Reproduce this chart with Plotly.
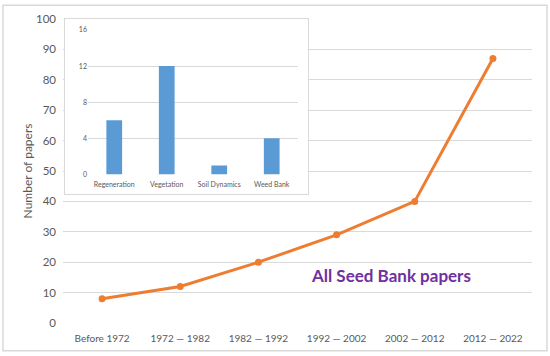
import plotly.graph_objects as go

periods = ["Before 1972", "1972 — 1982", "1982 — 1992", "1992 — 2002", "2002 — 2012", "2012 — 2022"]
papers = [8, 12, 20, 29, 40, 87]

inset_cats = ["Regeneration", "Vegetation", "Soil Dynamics", "Weed Bank"]
inset_vals = [6, 12, 1, 4]

main_ticks = [0, 10, 20, 30, 40, 50, 60, 70, 80, 90, 100]
inset_ticks = [0, 4, 8, 12, 16]

GRID = "#d9d9d9"
TXT = "#595959"
FONT = "Lato"

fig = go.Figure()

fig.add_trace(go.Scatter(
    x=periods, y=papers, mode="lines+markers",
    line=dict(color="#ED7D31", width=3),
    marker=dict(color="#ED7D31", size=7),
    xaxis="x", yaxis="y", showlegend=False, hoverinfo="skip"))

# empty subplot used as the inset's white framed box
fig.add_trace(go.Scatter(x=[None], y=[None], xaxis="x2", yaxis="y2",
                         showlegend=False, hoverinfo="skip"))

fig.add_trace(go.Bar(
    x=inset_cats, y=inset_vals, marker=dict(color="#5B9BD5", line=dict(width=0)),
    xaxis="x3", yaxis="y3", showlegend=False, hoverinfo="skip"))

fig.update_layout(
    width=550, height=356,
    margin=dict(l=63, r=18, t=17, b=32),
    paper_bgcolor="white", plot_bgcolor="white",
    font=dict(family=FONT, color=TXT),
    bargap=0.7,
    xaxis=dict(domain=[0, 1], range=[-0.5, len(periods) - 0.5], showgrid=False,
               showline=False, zeroline=False, ticks="", ticklabelstandoff=8,
               tickfont=dict(size=10, color=TXT)),
    yaxis=dict(domain=[0, 1], range=[0, 100], tickvals=main_ticks,
               showgrid=True, gridcolor=GRID, gridwidth=1, zeroline=False,
               showline=False, ticks="", ticklabelstandoff=6,
               tickfont=dict(size=11.5, color=TXT),
               title=dict(text="Number of papers", font=dict(size=12, color=TXT), standoff=0)),
    xaxis2=dict(domain=[0.004, 0.522], anchor="y2", range=[0, 1], visible=True,
                showgrid=False, zeroline=False, showticklabels=False, ticks="",
                showline=True, mirror=True, linecolor=GRID, linewidth=1),
    yaxis2=dict(domain=[0.423, 1.0], anchor="x2", range=[0, 1],
                showgrid=False, zeroline=False, showticklabels=False, ticks="",
                showline=True, mirror=True, linecolor=GRID, linewidth=1),
    xaxis3=dict(domain=[0.0533, 0.501], anchor="y3", showgrid=False, zeroline=False,
                showline=False, ticks="", ticklabelstandoff=5,
                tickfont=dict(size=7, color=TXT)),
    yaxis3=dict(domain=[0.4886, 0.964], anchor="x3", range=[0, 16], tickvals=inset_ticks,
                showgrid=True, gridcolor=GRID, zeroline=False, showline=False,
                ticks="", tickfont=dict(size=7, color=TXT)),
    annotations=[dict(text="<b>All Seed Bank papers</b>", xref="paper", yref="paper",
                      x=0.70, y=0.156, xanchor="center", yanchor="middle", showarrow=False,
                      font=dict(family=FONT, size=17, color="#7030A0"))],
    shapes=[dict(type="rect", xref="paper", yref="paper",
                 x0=-0.128, x1=1.032, y0=-0.091, y1=1.0456,
                 line=dict(color=GRID, width=1.5), fillcolor="rgba(0,0,0,0)", layer="above")],
)

fig.write_html("out.html", config={"displayModeBar": False},
               post_script="document.body.style.margin='0';document.body.style.padding='0';")
